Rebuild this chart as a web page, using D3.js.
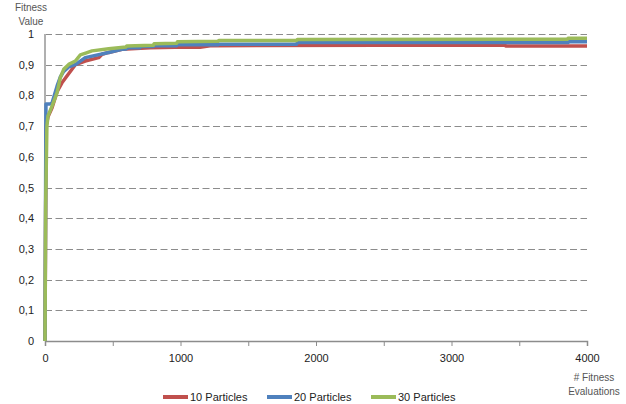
<!DOCTYPE html>
<html>
<head>
<meta charset="utf-8">
<script src="https://cdn.jsdelivr.net/npm/d3@7"></script>
<style>
  html, body { margin: 0; padding: 0; background: #fff; }
  svg { display: block; font-family: "Liberation Sans", Arial, sans-serif; }
</style>
</head>
<body>
<svg id="chart" width="626" height="404"></svg>
<script>
// Best fitness value versus number of fitness evaluations, per swarm size
const seriesNames = ["10 Particles", "20 Particles", "30 Particles"];
const seriesColors = ["#C0504D", "#4F81BD", "#9BBB59"];

const evals10 = [0, 8, 22, 52, 89, 125, 162, 199, 224, 297, 396, 421, 470, 568, 775, 960, 1144, 1218, 3395, 3400, 4000];
const fit10   = [0, 0.70, 0.73, 0.76, 0.812, 0.841, 0.863, 0.885, 0.900, 0.912, 0.923, 0.934, 0.940, 0.950, 0.955, 0.957, 0.957, 0.962, 0.964, 0.961, 0.961];

const evals20 = [0, 7, 37, 52, 89, 113, 138, 175, 224, 297, 470, 568, 600, 610, 700, 705, 799, 805, 972, 978, 1277, 1283, 1857, 1863, 3860, 3865, 4000];
const fit20   = [0, 0.772, 0.772, 0.775, 0.83, 0.86, 0.878, 0.893, 0.900, 0.923, 0.940, 0.950, 0.951, 0.955, 0.955, 0.959, 0.959, 0.962, 0.962, 0.965, 0.965, 0.967, 0.967, 0.972, 0.972, 0.975, 0.975];

const evals30 = [0, 5, 14, 22, 52, 89, 113, 138, 175, 224, 261, 300, 347, 470, 598, 603, 799, 805, 972, 978, 1277, 1283, 1857, 1863, 3855, 3860, 4000];
const fit30   = [0, 0.45, 0.70, 0.733, 0.765, 0.809, 0.858, 0.885, 0.901, 0.912, 0.932, 0.938, 0.945, 0.952, 0.958, 0.961, 0.963, 0.968, 0.970, 0.975, 0.976, 0.979, 0.979, 0.982, 0.983, 0.986, 0.986];

const xTicks = [0, 1000, 2000, 3000, 4000];
const xMinorTicks = [0, 500, 1000, 1500, 2000, 2500, 3000, 3500, 4000];
const yTicks = [0, 0.1, 0.2, 0.3, 0.4, 0.5, 0.6, 0.7, 0.8, 0.9, 1];

const series = [
  { name: seriesNames[0], color: seriesColors[0], x: evals10, y: fit10 },
  { name: seriesNames[1], color: seriesColors[1], x: evals20, y: fit20 },
  { name: seriesNames[2], color: seriesColors[2], x: evals30, y: fit30 }
];

const svg = d3.select("#chart");
const plotL = 45, plotR = 587, plotT = 34, plotB = 341;

const x = d3.scaleLinear().domain([0, 4000]).range([plotL, plotR]);
const y = d3.scaleLinear().domain([0, 1]).range([plotB, plotT]);

// dashed horizontal gridlines
svg.append("g").selectAll("line")
  .data(yTicks.filter(d => d > 0))
  .join("line")
  .attr("x1", plotL).attr("x2", plotR)
  .attr("y1", d => Math.round(y(d)) + 0.5).attr("y2", d => Math.round(y(d)) + 0.5)
  .attr("stroke", "#8c8c8c")
  .attr("stroke-width", 1)
  .attr("stroke-dasharray", "7,3.5");

// y axis labels with decimal comma
const fmt = d => d === 0 ? "0" : d === 1 ? "1" : d3.format(".1f")(d).replace(".", ",");
const yAxis = d3.axisLeft(y).tickValues(yTicks).tickFormat(fmt).tickSize(0).tickPadding(11);
const gy = svg.append("g").attr("transform", `translate(${plotL},0)`).call(yAxis);
gy.select(".domain").remove();
gy.selectAll("text").attr("font-size", 11).attr("fill", "#222");

// x axis with minor ticks every 500
const xAxis = d3.axisBottom(x).tickValues(xMinorTicks)
  .tickFormat(d => xTicks.includes(d) ? d : "").tickSize(5).tickPadding(8);
const gx = svg.append("g").attr("transform", `translate(0,${plotB})`).call(xAxis);
gx.select(".domain").attr("stroke", "#8c8c8c").attr("stroke-width", 1.5);
gx.selectAll(".tick line").attr("stroke", "#8c8c8c");
gx.selectAll("text").attr("font-size", 11).attr("fill", "#222");

// y spine
svg.append("line")
  .attr("x1", plotL).attr("x2", plotL).attr("y1", plotT).attr("y2", plotB)
  .attr("stroke", "#b0b0b0").attr("stroke-width", 2);

// series lines
const line = d3.line().x(d => x(d[0])).y(d => y(d[1]));
svg.append("g").selectAll("path")
  .data(series)
  .join("path")
  .attr("d", s => line(s.x.map((v, i) => [v, s.y[i]])))
  .attr("fill", "none")
  .attr("stroke", s => s.color)
  .attr("stroke-width", 3.5)
  .attr("stroke-linejoin", "round");

// axis titles
const titles = svg.append("g").attr("font-size", 10).attr("fill", "#555").attr("text-anchor", "middle");
titles.append("text").attr("x", 31).attr("y", 11).text("Fitness");
titles.append("text").attr("x", 31).attr("y", 25).text("Value");
titles.append("text").attr("x", 594).attr("y", 381).text("# Fitness");
titles.append("text").attr("x", 594).attr("y", 395).text("Evaluations");

// legend
const legendX = [163, 267, 371];
const lg = svg.append("g").selectAll("g").data(series).join("g")
  .attr("transform", (d, i) => `translate(${legendX[i]},397)`);
lg.append("line").attr("x1", 0).attr("x2", 25).attr("y1", 0).attr("y2", 0)
  .attr("stroke", d => d.color).attr("stroke-width", 4);
lg.append("text").attr("x", 27).attr("y", 4).attr("font-size", 11).attr("fill", "#222")
  .text(d => d.name);
</script>
</body>
</html>
